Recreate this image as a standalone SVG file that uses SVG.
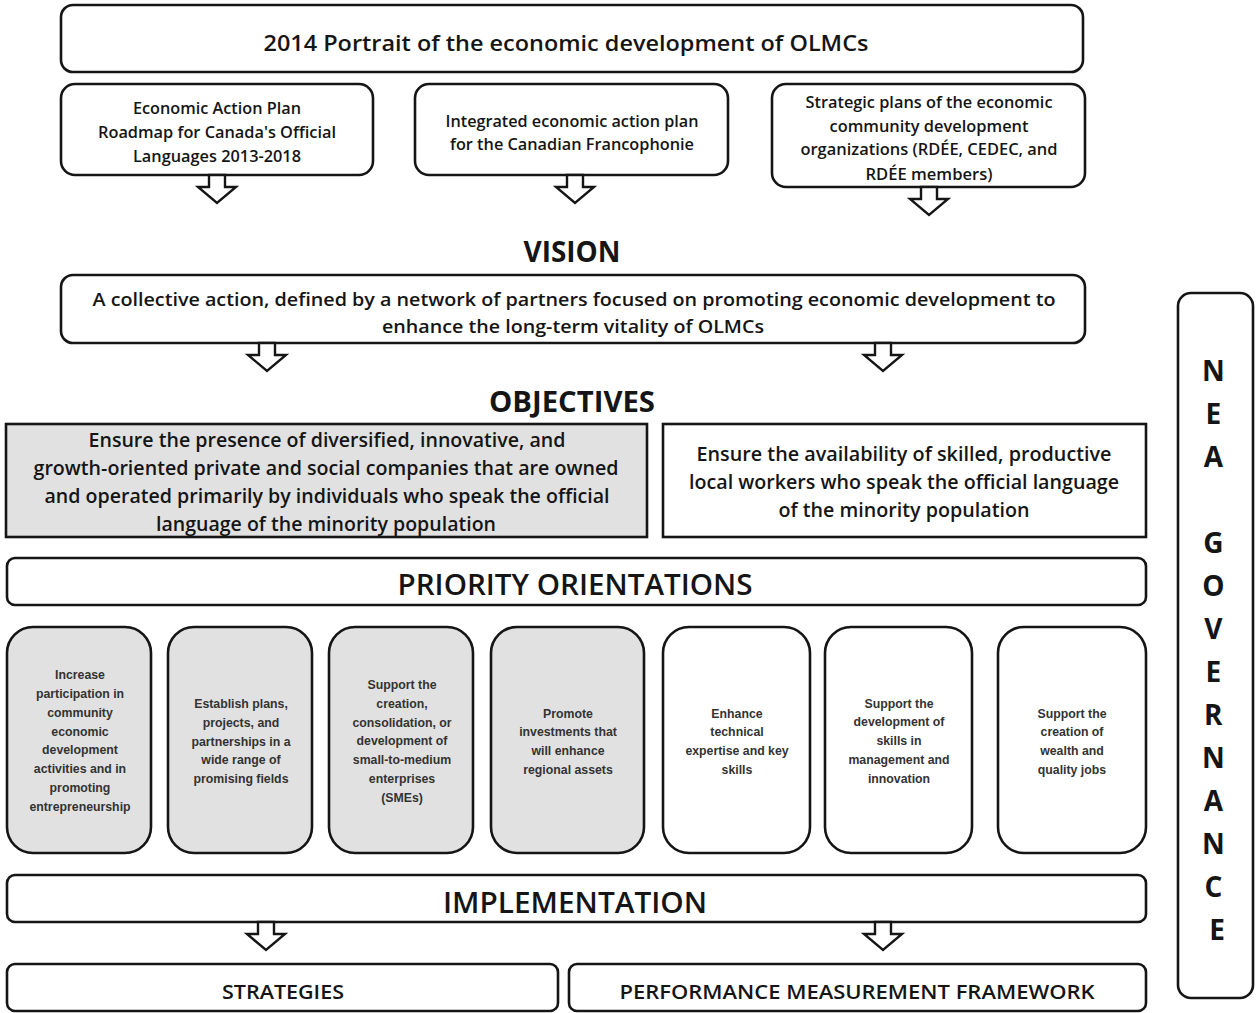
<svg xmlns="http://www.w3.org/2000/svg" xmlns:xlink="http://www.w3.org/1999/xlink" width="1256" height="1013" viewBox="0 0 1256 1013">
<style>
.box{fill:#fff;stroke:#151515;stroke-width:2.6}
.gray{fill:#e1e1e1}
.t{font-family:"Open Sans","Liberation Sans",sans-serif;fill:#151515;text-anchor:middle}
.sb{font-weight:600}
.b{font-weight:bold}
.s{font-family:"Liberation Sans",Arial,sans-serif;font-weight:bold;font-size:12.3px;fill:#333;text-anchor:middle}
.arr{fill:#fff;stroke:#151515;stroke-width:2.4;stroke-linejoin:miter}
</style>
<defs>
<path id="darrow" class="arr" d="M-8,0 H8 V12 H19 L0,28 L-19,12 H-8 Z"/>
</defs>
<rect width="1256" height="1013" fill="#fff"/>

<g id="portrait">
<rect class="box" x="61" y="5" width="1022" height="67" rx="12"/>
<text class="t sb" x="566" y="51" font-size="22" textLength="605" lengthAdjust="spacingAndGlyphs">2014 Portrait of the economic development of OLMCs</text>
</g>

<g id="eap">
<rect class="box" x="61" y="84" width="312" height="91" rx="14"/>
<text class="t sb" font-size="15.5" x="217" y="114" textLength="168" lengthAdjust="spacingAndGlyphs">Economic Action Plan</text>
<text class="t sb" font-size="15.5" x="217" y="138" textLength="238" lengthAdjust="spacingAndGlyphs">Roadmap for Canada's Official</text>
<text class="t sb" font-size="15.5" x="217" y="162" textLength="168" lengthAdjust="spacingAndGlyphs">Languages 2013-2018</text>
</g>

<g id="integrated">
<rect class="box" x="415" y="84" width="313" height="91" rx="14"/>
<text class="t sb" font-size="15.5" x="572" y="127" textLength="253" lengthAdjust="spacingAndGlyphs">Integrated economic action plan</text>
<text class="t sb" font-size="15.5" x="572" y="150" textLength="244" lengthAdjust="spacingAndGlyphs">for the Canadian Francophonie</text>
</g>

<g id="strategic">
<rect class="box" x="772" y="84" width="313" height="103" rx="14"/>
<text class="t sb" font-size="15.5" x="929" y="108" textLength="247" lengthAdjust="spacingAndGlyphs">Strategic plans of the economic</text>
<text class="t sb" font-size="15.5" x="929" y="132" textLength="199" lengthAdjust="spacingAndGlyphs">community development</text>
<text class="t sb" font-size="15.5" x="929" y="155" textLength="257" lengthAdjust="spacingAndGlyphs">organizations (RDÉE, CEDEC, and</text>
<text class="t sb" font-size="15.5" x="929" y="180" textLength="127" lengthAdjust="spacingAndGlyphs">RDÉE members)</text>
</g>

<g id="vision-title">
<text class="t b" font-size="29" x="572" y="262" textLength="97" lengthAdjust="spacingAndGlyphs">VISION</text>
</g>

<g id="vision">
<rect class="box" x="61" y="275" width="1024" height="68" rx="12"/>
<text class="t sb" font-size="18" x="574" y="306" textLength="963" lengthAdjust="spacingAndGlyphs">A collective action, defined by a network of partners focused on promoting economic development to</text>
<text class="t sb" font-size="18" x="573" y="333" textLength="382" lengthAdjust="spacingAndGlyphs">enhance the long-term vitality of OLMCs</text>
</g>

<g id="objectives-title">
<text class="t b" font-size="29" x="572" y="412" textLength="166" lengthAdjust="spacingAndGlyphs">OBJECTIVES</text>
</g>

<g id="objective-1">
<rect class="box gray" x="6" y="424" width="641" height="113" stroke-width="3"/>
<text class="t sb" font-size="19" x="327" y="447" textLength="477" lengthAdjust="spacingAndGlyphs">Ensure the presence of diversified, innovative, and</text>
<text class="t sb" font-size="19" x="326" y="475" textLength="585" lengthAdjust="spacingAndGlyphs">growth-oriented private and social companies that are owned</text>
<text class="t sb" font-size="19" x="327" y="503" textLength="565" lengthAdjust="spacingAndGlyphs">and operated primarily by individuals who speak the official</text>
<text class="t sb" font-size="19" x="326" y="531" textLength="340" lengthAdjust="spacingAndGlyphs">language of the minority population</text>
</g>

<g id="objective-2">
<rect class="box" x="663" y="424" width="483" height="113" stroke-width="3"/>
<text class="t sb" font-size="19" x="904" y="461" textLength="415" lengthAdjust="spacingAndGlyphs">Ensure the availability of skilled, productive</text>
<text class="t sb" font-size="19" x="904" y="489" textLength="430" lengthAdjust="spacingAndGlyphs">local workers who speak the official language</text>
<text class="t sb" font-size="19" x="904" y="517" textLength="251" lengthAdjust="spacingAndGlyphs">of the minority population</text>
</g>

<g id="priority">
<rect class="box" x="7" y="558" width="1139" height="47" rx="8"/>
<text class="t sb" font-size="29" x="575" y="595" textLength="355" lengthAdjust="spacingAndGlyphs">PRIORITY ORIENTATIONS</text>
</g>

<g id="po-1">
<rect class="box gray" x="7" y="627" width="144" height="226" rx="26"/>
<text class="s" x="80" y="679">Increase</text>
<text class="s" x="80" y="698">participation in</text>
<text class="s" x="80" y="717">community</text>
<text class="s" x="80" y="736">economic</text>
<text class="s" x="80" y="754">development</text>
<text class="s" x="80" y="773">activities and in</text>
<text class="s" x="80" y="792">promoting</text>
<text class="s" x="80" y="811">entrepreneurship</text>
</g>

<g id="po-2">
<rect class="box gray" x="168" y="627" width="144" height="226" rx="26"/>
<text class="s" x="241" y="708">Establish plans,</text>
<text class="s" x="241" y="727">projects, and</text>
<text class="s" x="241" y="746">partnerships in a</text>
<text class="s" x="241" y="764">wide range of</text>
<text class="s" x="241" y="783">promising fields</text>
</g>

<g id="po-3">
<rect class="box gray" x="329" y="627" width="144" height="226" rx="26"/>
<text class="s" x="402" y="689">Support the</text>
<text class="s" x="402" y="708">creation,</text>
<text class="s" x="402" y="727">consolidation, or</text>
<text class="s" x="402" y="745">development of</text>
<text class="s" x="402" y="764">small-to-medium</text>
<text class="s" x="402" y="783">enterprises</text>
<text class="s" x="402" y="802">(SMEs)</text>
</g>

<g id="po-4">
<rect class="box gray" x="491" y="627" width="153" height="226" rx="26"/>
<text class="s" x="568" y="718">Promote</text>
<text class="s" x="568" y="736">investments that</text>
<text class="s" x="568" y="755">will enhance</text>
<text class="s" x="568" y="774">regional assets</text>
</g>

<g id="po-5">
<rect class="box" x="663" y="627" width="147" height="226" rx="26"/>
<text class="s" x="737" y="718">Enhance</text>
<text class="s" x="737" y="736">technical</text>
<text class="s" x="737" y="755">expertise and key</text>
<text class="s" x="737" y="774">skills</text>
</g>

<g id="po-6">
<rect class="box" x="825" y="627" width="147" height="226" rx="26"/>
<text class="s" x="899" y="708">Support the</text>
<text class="s" x="899" y="726">development of</text>
<text class="s" x="899" y="745">skills in</text>
<text class="s" x="899" y="764">management and</text>
<text class="s" x="899" y="783">innovation</text>
</g>

<g id="po-7">
<rect class="box" x="998" y="627" width="148" height="226" rx="26"/>
<text class="s" x="1072" y="718">Support the</text>
<text class="s" x="1072" y="736">creation of</text>
<text class="s" x="1072" y="755">wealth and</text>
<text class="s" x="1072" y="774">quality jobs</text>
</g>

<g id="implementation">
<rect class="box" x="7" y="875" width="1139" height="47" rx="8"/>
<text class="t sb" font-size="29" x="575" y="913" textLength="264" lengthAdjust="spacingAndGlyphs">IMPLEMENTATION</text>
</g>

<g id="strategies">
<rect class="box" x="7" y="964" width="551" height="47" rx="8"/>
<text class="t sb" font-size="20" x="283" y="999" textLength="122" lengthAdjust="spacingAndGlyphs">STRATEGIES</text>
</g>

<g id="pmf">
<rect class="box" x="569" y="964" width="577" height="47" rx="8"/>
<text class="t sb" font-size="20" x="857" y="999" textLength="475" lengthAdjust="spacingAndGlyphs">PERFORMANCE MEASUREMENT FRAMEWORK</text>
</g>

<g id="nea-governance">
<rect class="box" x="1178" y="293" width="75" height="705" rx="13"/>
<text class="t b" font-size="28">
<tspan x="1217" y="381">N</tspan>
<tspan x="1217" y="424">E</tspan>
<tspan x="1217" y="467">A</tspan>
<tspan x="1217" y="553">G</tspan>
<tspan x="1217" y="596">O</tspan>
<tspan x="1217" y="639">V</tspan>
<tspan x="1217" y="682">E</tspan>
<tspan x="1217" y="725">R</tspan>
<tspan x="1217" y="768">N</tspan>
<tspan x="1217" y="811">A</tspan>
<tspan x="1217" y="854">N</tspan>
<tspan x="1217" y="897">C</tspan>
<tspan x="1217" y="940">E</tspan>
</text>
</g>

<g id="connectors">
<use xlink:href="#darrow" href="#darrow" x="217" y="175"/>
<use xlink:href="#darrow" href="#darrow" x="575" y="175"/>
<use xlink:href="#darrow" href="#darrow" x="929" y="187"/>
<use xlink:href="#darrow" href="#darrow" x="267" y="343"/>
<use xlink:href="#darrow" href="#darrow" x="883" y="343"/>
<use xlink:href="#darrow" href="#darrow" x="266" y="922"/>
<use xlink:href="#darrow" href="#darrow" x="883" y="922"/>
</g>
</svg>
